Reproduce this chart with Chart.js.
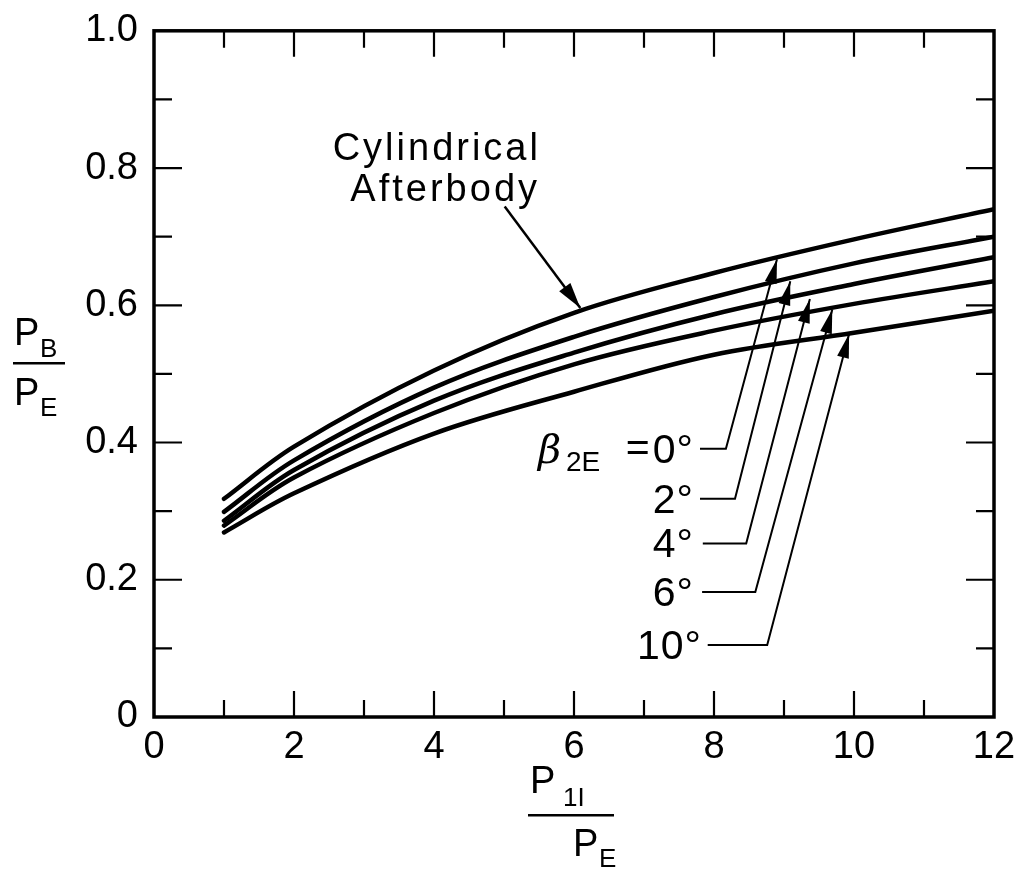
<!DOCTYPE html>
<html>
<head>
<meta charset="utf-8">
<script src="https://cdn.jsdelivr.net/npm/chart.js@4.4.0/dist/chart.umd.min.js"></script>
<style>
html,body{margin:0;padding:0;background:#fff;}
#wrap{width:1020px;height:874px;position:relative;}
</style>
</head>
<body>
<div id="wrap"><canvas id="c" width="1020" height="874"></canvas></div>
<script>
// P1I/PE values (x)
const pressureRatio = [1, 2, 4, 6, 8, 10, 12];
// PB/PE for each boattail angle
const beta0 = [0.318, 0.394, 0.505, 0.589, 0.647, 0.696, 0.740]; // also cylindrical afterbody
const beta2 = [0.299, 0.374, 0.480, 0.554, 0.612, 0.661, 0.700];
const beta4 = [0.286, 0.360, 0.461, 0.531, 0.587, 0.631, 0.670];
const beta6 = [0.279, 0.349, 0.443, 0.514, 0.563, 0.602, 0.635];
const beta10 = [0.269, 0.326, 0.413, 0.474, 0.528, 0.560, 0.592];
const seriesNames = ['0°', '2°', '4°', '6°', '10°'];
const xTickLabels = ['0', '2', '4', '6', '8', '10', '12'];
const yTickLabels = ['0', '0.2', '0.4', '0.6', '0.8', '1.0'];

// Leader annotations in data units: [labelEndX, bendX, bendY, tipX, tipY]
const leaders = [
  [7.80, 8.17, 0.391, 8.90, 0.667],
  [7.80, 8.30, 0.318, 9.09, 0.635],
  [7.84, 8.46, 0.253, 9.37, 0.609],
  [7.83, 8.59, 0.182, 9.69, 0.594],
  [7.91, 8.76, 0.105, 9.93, 0.558]
];
const cylArrow = [5.01, 0.744, 6.09, 0.596];

const allSeries = [beta0, beta2, beta4, beta6, beta10];
const datasets = allSeries.map((arr, i) => ({
  label: seriesNames[i],
  data: pressureRatio.map((x, j) => ({x: x, y: arr[j]})),
  borderColor: '#000',
  borderWidth: 4.5,
  pointRadius: 0,
  fill: false,
  tension: 0.35,
  borderCapStyle: 'round'
}));

const FONT = '"Liberation Sans", Arial, sans-serif';

function arrowHead(ctx, x0, y0, x1, y1, len, half) {
  const a = Math.atan2(y1 - y0, x1 - x0);
  ctx.beginPath();
  ctx.moveTo(x1, y1);
  ctx.lineTo(x1 - len * Math.cos(a) + half * Math.sin(a), y1 - len * Math.sin(a) - half * Math.cos(a));
  ctx.lineTo(x1 - len * Math.cos(a) - half * Math.sin(a), y1 - len * Math.sin(a) + half * Math.cos(a));
  ctx.closePath();
  ctx.fill();
}

const decor = {
  id: 'decor',
  afterDraw(chart) {
    const ctx = chart.ctx;
    const xs = chart.scales.x, ys = chart.scales.y;
    const L = xs.left, R = xs.right, T = ys.top, B = ys.bottom;
    ctx.save();
    ctx.strokeStyle = '#000';
    ctx.fillStyle = '#000';
    ctx.lineCap = 'butt';
    // frame
    ctx.lineWidth = 3.5;
    ctx.strokeRect(L, T, R - L, B - T);
    // ticks
    ctx.lineWidth = 2.2;
    for (let v = 1; v < 12; v++) {
      const px = xs.getPixelForValue(v);
      const len = v % 2 === 0 ? 26 : 17;
      ctx.beginPath();
      ctx.moveTo(px, B); ctx.lineTo(px, B - len);
      ctx.moveTo(px, T); ctx.lineTo(px, T + len);
      ctx.stroke();
    }
    for (let k = 1; k < 10; k++) {
      const py = ys.getPixelForValue(k / 10);
      const len = k % 2 === 0 ? 28 : 18;
      ctx.beginPath();
      ctx.moveTo(L, py); ctx.lineTo(L + len, py);
      ctx.moveTo(R, py); ctx.lineTo(R - len, py);
      ctx.stroke();
    }
    // leader lines
    ctx.lineWidth = 2;
    leaders.forEach(l => {
      const sx = xs.getPixelForValue(l[0]);
      const bx = xs.getPixelForValue(l[1]), by = ys.getPixelForValue(l[2]);
      const tx = xs.getPixelForValue(l[3]), ty = ys.getPixelForValue(l[4]);
      ctx.beginPath();
      ctx.moveTo(sx, by); ctx.lineTo(bx, by); ctx.lineTo(tx, ty);
      ctx.stroke();
      arrowHead(ctx, bx, by, tx, ty, 24, 6);
    });
    // cylindrical arrow
    {
      const ax = xs.getPixelForValue(cylArrow[0]), ay = ys.getPixelForValue(cylArrow[1]);
      const bx = xs.getPixelForValue(cylArrow[2]), by = ys.getPixelForValue(cylArrow[3]);
      ctx.lineWidth = 2.5;
      ctx.beginPath(); ctx.moveTo(ax, ay); ctx.lineTo(bx, by); ctx.stroke();
      arrowHead(ctx, ax, ay, bx, by, 26, 7);
    }
    // texts
    ctx.textBaseline = 'alphabetic';
    ctx.textAlign = 'center';
    ctx.font = '38px ' + FONT;
    try { ctx.letterSpacing = '3px'; } catch (e) {}
    ctx.fillText('Cylindrical', xs.getPixelForValue(4.04), ys.getPixelForValue(0.812));
    ctx.fillText('Afterbody', xs.getPixelForValue(4.16), ys.getPixelForValue(0.752));
    try { ctx.letterSpacing = '1px'; } catch (e) {}
    // beta labels
    ctx.textAlign = 'right';
    const labY = leaders.map(l => ys.getPixelForValue(l[2]) + 14);
    const labRight = [694, 694, 694, 694, 702];
    ctx.font = '41px ' + FONT;
    seriesNames.forEach((n, i) => {
      ctx.fillText(n, labRight[i], labY[i]);
    });
    const w0 = ctx.measureText('0°').width;
    ctx.fillText('=', labRight[0] - w0 - 2, labY[0] - 2);
    try { ctx.letterSpacing = '0px'; } catch (e) {}
    ctx.font = 'italic 40px "DejaVu Serif", serif';
    ctx.textAlign = 'left';
    ctx.fillText('β', 538, labY[0]);
    ctx.font = '28px ' + FONT;
    ctx.fillText('2E', 566, labY[0] + 8);
    // y axis title
    ctx.textAlign = 'left';
    ctx.font = '38px ' + FONT;
    ctx.fillText('P', 14, 345);
    ctx.font = '26px ' + FONT;
    ctx.fillText('B', 40, 357);
    ctx.fillRect(13, 362, 52, 2.5);
    ctx.font = '38px ' + FONT;
    ctx.fillText('P', 14, 405);
    ctx.font = '26px ' + FONT;
    ctx.fillText('E', 40, 416);
    // x axis title
    ctx.font = '38px ' + FONT;
    ctx.fillText('P', 530, 793);
    ctx.font = '26px ' + FONT;
    ctx.fillText('1I', 563, 806);
    ctx.fillRect(528, 814, 86, 2.5);
    ctx.font = '38px ' + FONT;
    ctx.fillText('P', 573, 856);
    ctx.font = '26px ' + FONT;
    ctx.fillText('E', 599, 867);
    ctx.restore();
  }
};

new Chart(document.getElementById('c'), {
  type: 'line',
  data: { datasets: datasets },
  options: {
    responsive: false,
    animation: false,
    layout: { padding: { left: 0, top: 29, right: 26, bottom: 0 } },
    plugins: { legend: { display: false }, tooltip: { enabled: false } },
    scales: {
      x: {
        type: 'linear', min: 0, max: 12,
        grid: { display: false },
        border: { display: false },
        afterFit: s => { s.height = 157; },
        afterBuildTicks: s => { s.ticks = xTickLabels.map(t => ({ value: Number(t) })); },
        ticks: {
          callback: (v) => xTickLabels.find(t => Number(t) === v) || '',
          color: '#000', padding: 0, maxRotation: 0,
          font: { size: 38, family: FONT }
        }
      },
      y: {
        type: 'linear', min: 0, max: 1,
        grid: { display: false },
        border: { display: false },
        afterFit: s => { s.width = 154; },
        afterBuildTicks: s => { s.ticks = yTickLabels.map(t => ({ value: Number(t) })); },
        ticks: {
          callback: (v) => yTickLabels.find(t => Math.abs(Number(t) - v) < 1e-6) || '',
          color: '#000', padding: 8,
          font: { size: 38, family: FONT }
        }
      }
    }
  },
  plugins: [decor]
});
</script>
</body>
</html>
